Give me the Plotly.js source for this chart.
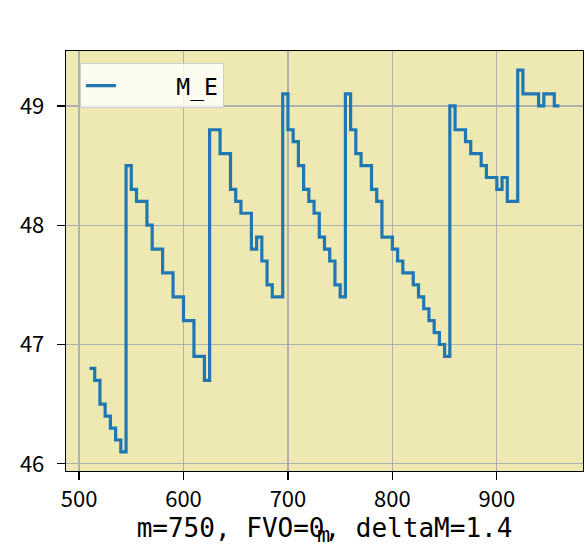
<!DOCTYPE html>
<html>
<head>
<meta charset="utf-8">
<script src="https://cdn.plot.ly/plotly-3.0.1.min.js"></script>
<style>html,body{margin:0;padding:0;background:#fff;}#chart{width:585px;height:553px;}</style>
</head>
<body>
<div id="chart"></div>
<script>
const seriesName = "M_E";
const xValues = [510,515,520,525,530,535,540,545,550,555,560,565,570,575,580,585,590,595,600,605,610,615,620,625,630,635,640,645,650,655,660,665,670,675,680,685,690,695,700,705,710,715,720,725,730,735,740,745,750,755,760,765,770,775,780,785,790,795,800,805,810,815,820,825,830,835,840,845,850,855,860,865,870,875,880,885,890,895,900,905,910,915,920,925,930,935,940,945,950,955,960];
const yValues = [46.8,46.7,46.5,46.4,46.3,46.2,46.1,48.5,48.3,48.2,48.2,48.0,47.8,47.8,47.6,47.6,47.4,47.4,47.2,47.2,46.9,46.9,46.7,48.8,48.8,48.6,48.6,48.3,48.2,48.1,48.1,47.8,47.9,47.7,47.5,47.4,47.4,49.1,48.8,48.7,48.5,48.3,48.2,48.1,47.9,47.8,47.7,47.5,47.4,49.1,48.8,48.6,48.5,48.5,48.3,48.2,47.9,47.9,47.8,47.7,47.6,47.6,47.5,47.4,47.3,47.2,47.1,47.0,46.9,49.0,48.8,48.8,48.7,48.6,48.6,48.5,48.4,48.4,48.3,48.4,48.2,48.2,49.3,49.1,49.1,49.1,49.0,49.1,49.1,49.0,49.0];
const xTickVals = [500,600,700,800,900];
const yTickVals = [46,47,48,49];
const xTitle = "m=750, FVO=0, deltaM=1.4";
const overlapLabel = "m";

const SANS = '"Noto Sans CJK SC", "DejaVu Sans", sans-serif';
const MONO = '"DejaVu Sans Mono", "Liberation Mono", monospace';

const trace = {
  x: xValues, y: yValues, type: 'scatter', mode: 'lines',
  line: {color: '#1f77b4', width: 3.2, shape: 'hv'},
  name: '\u00a0\u00a0\u00a0\u00a0' + seriesName
};

const layout = {
  width: 585, height: 553,
  margin: {l: 66, r: 2, t: 51, b: 82},
  paper_bgcolor: '#ffffff',
  plot_bgcolor: '#eee8b2',
  font: {family: SANS, size: 16, color: '#000'},
  showlegend: true,
  legend: {
    x: 0.027, y: 0.971, xanchor: 'left', yanchor: 'top',
    bgcolor: 'rgba(255,255,255,0.8)', bordercolor: '#d0d0d0', borderwidth: 1,
    font: {family: MONO, size: 23, color: '#000'}
  },
  xaxis: {
    range: [487.5, 982.5], tickvals: xTickVals, ticktext: xTickVals.map(String),
    showgrid: true, gridcolor: '#b0b0b0', gridwidth: 1.3,
    showline: true, linecolor: '#000', linewidth: 1.3, mirror: true,
    ticks: 'outside', ticklen: 8, tickwidth: 1.3, tickcolor: '#000',
    tickfont: {family: SANS, size: 22},
    zeroline: false,
    title: {text: xTitle, font: {family: MONO, size: 26}, standoff: 0}
  },
  yaxis: {
    range: [45.94, 49.46], tickvals: yTickVals, ticktext: yTickVals.map(String),
    showgrid: true, gridcolor: '#b0b0b0', gridwidth: 1.3,
    showline: true, linecolor: '#000', linewidth: 1.3, mirror: true,
    ticks: 'outside', ticklen: 8, tickwidth: 1.3, tickcolor: '#000',
    tickfont: {family: SANS, size: 22},
    ticklabelstandoff: 8,
    zeroline: false
  },
  annotations: [{
    text: overlapLabel, xref: 'paper', yref: 'paper', x: 0.499, y: -0.152,
    xanchor: 'center', yanchor: 'middle', showarrow: false,
    font: {family: MONO, size: 22, color: '#000'}
  }]
};

Plotly.newPlot('chart', [trace], layout, {displayModeBar: false, staticPlot: true});
</script>
</body>
</html>
